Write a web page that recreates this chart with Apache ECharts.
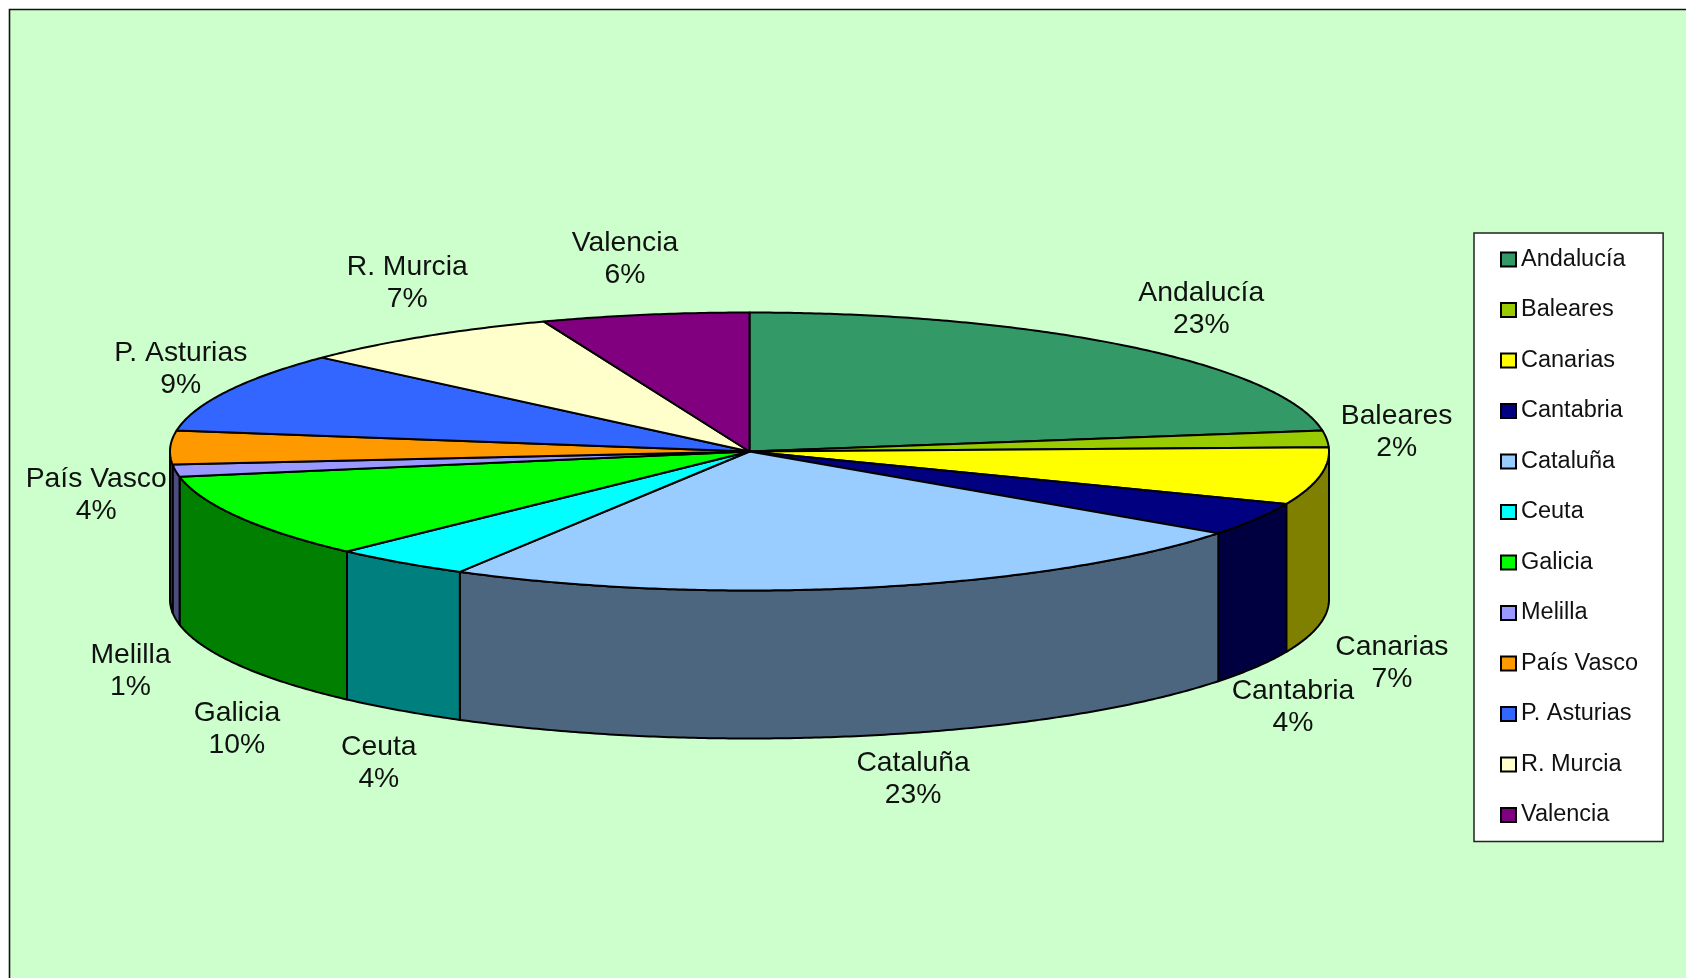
<!DOCTYPE html>
<html><head><meta charset="utf-8">
<style>html,body{margin:0;padding:0;background:#fff;overflow:hidden}#c{width:1686px;height:978px}</style>
<script src="https://cdn.jsdelivr.net/npm/echarts@6/dist/echarts.min.js"></script>
</head><body><div id="c"></div>
<script>
const categories = ['Andalucía','Baleares','Canarias','Cantabria','Cataluña','Ceuta','Galicia','Melilla','País Vasco','P. Asturias','R. Murcia','Valencia'];
const shares = [22.6,1.9,6.65,3.85,23.33,3.89,9.88,1.4,3.9,9.4,7.43,5.77];
const colors = ['#339966','#99CC00','#FFFF00','#000080','#99CCFF','#00FFFF','#00FF00','#9999FF','#FF9900','#3366FF','#FFFFCC','#800080'];
// label offset from the slice's mid-rim point
const labelOffsets = [[74,-37],[70,-7],[72,187.5],[37,188.5],[43,192],[-22,200.5],[-2,212],[-45,200.5],[-74,47.5],[-46,-22],[-17,-53],[-20,-56]];

const CX=749.5, CY=451.5, RX=579.5, RY=139, DEPTH=148, FONT='Liberation Sans, Arial, sans-serif';
const total = shares.reduce((a,b)=>a+b,0);
const rim = (deg,dz=0)=>{const r=deg*Math.PI/180;return [CX+RX*Math.sin(r),CY-RY*Math.cos(r)+dz];};
const arc = (a,b,dz=0)=>{const n=Math.max(2,Math.ceil(Math.abs(b-a)*2));const p=[];for(let i=0;i<=n;i++)p.push(rim(a+(b-a)*i/n,dz));return p;};
const half = hex=>{const n=parseInt(hex.slice(1),16);return 'rgb('+[(n>>16&255)>>1,(n>>8&255)>>1,(n&255)>>1].join(',')+')';};

function renderSlice(params,api){
  const value=api.value(0), before=api.value(1);
  const a=before/total*360, b=(before+value)/total*360;
  const color=api.visual('color'), stroke={stroke:'#000',lineWidth:2,lineJoin:'round'};
  const children=[];
  const w0=Math.max(a,90), w1=Math.min(b,270);
  if(w1>w0){
    children.push({type:'polygon',shape:{points:arc(w0,w1).concat(arc(w1,w0,DEPTH))},style:{fill:half(colors[params.seriesIndex]),...stroke}});
  }
  children.push({type:'polygon',shape:{points:[[CX,CY]].concat(arc(a,b))},style:{fill:color,...stroke}});
  const m=rim((a+b)/2), off=labelOffsets[params.seriesIndex];
  children.push({type:'text',style:{text:categories[params.seriesIndex]+'\n'+Math.round(value/total*100)+'%',x:m[0]+off[0],y:m[1]+off[1],align:'center',verticalAlign:'middle',font:'28.3px '+FONT,lineHeight:32,fill:'#111'}});
  return {type:'group',children};
}

let running=0;
const series=categories.map((name,i)=>{
  const s={type:'custom',name,coordinateSystem:'none',renderItem:renderSlice,silent:true,animation:false,
    itemStyle:{color:colors[i]},data:[[shares[i],running]],dimensions:['value','before'],z:2+i};
  running+=shares[i];
  return s;
});

const chart=echarts.init(document.getElementById('c'),null,{renderer:'canvas'});
chart.setOption({
  animation:false,
  backgroundColor:'#fff',
  graphic:[{type:'rect',z:-10,silent:true,shape:{x:9.5,y:9.5,width:1700,height:1000},style:{fill:'#CCFFCC',stroke:'#111',lineWidth:1.6}}],
  legend:{
    orient:'vertical',left:1474,top:233,icon:'rect',selectedMode:false,
    itemWidth:15,itemHeight:14,itemGap:21.5,
    padding:[12,25,12,26],
    backgroundColor:'#fff',borderColor:'#222',borderWidth:1.5,
    itemStyle:{borderColor:'#000',borderWidth:2},
    textStyle:{fontFamily:FONT,fontSize:23.5,lineHeight:24,color:'#111',padding:[5,0,0,0]},
    data:categories
  },
  series
});
</script></body></html>
